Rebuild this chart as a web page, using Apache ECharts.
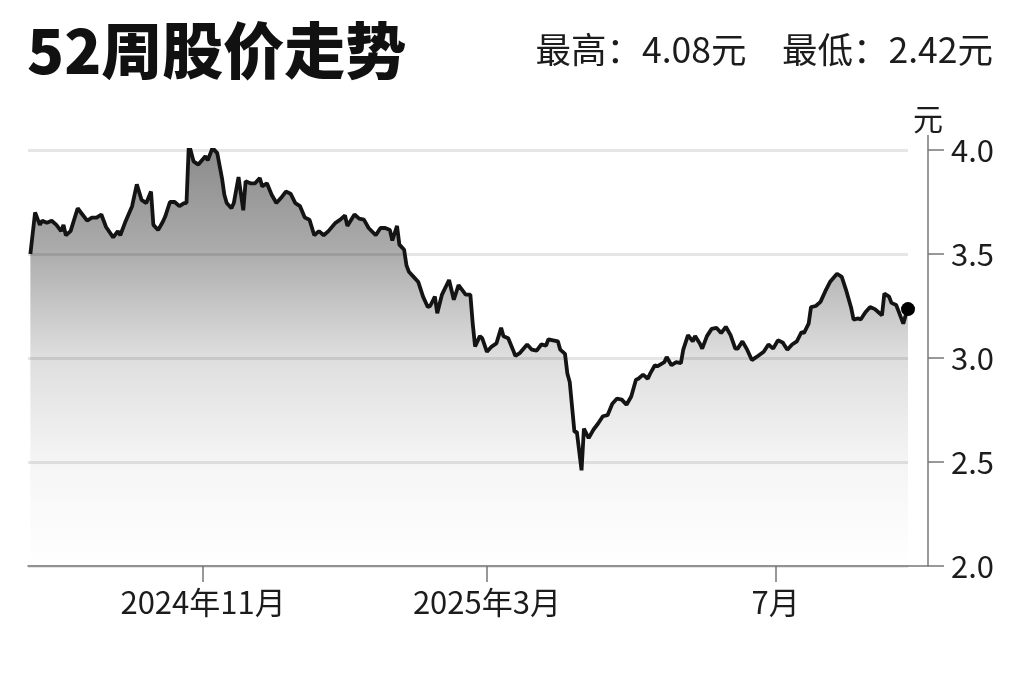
<!DOCTYPE html>
<html>
<head>
<meta charset="utf-8">
<script src="https://cdn.jsdelivr.net/npm/echarts@6/dist/echarts.min.js"></script>
<style>
  html, body { margin: 0; padding: 0; background: #fff; }
  #stockChart { width: 1024px; height: 682px; }
</style>
</head>
<body>
<div id="stockChart"></div>
<script>
// 日期与收盘价
var dates = [
  '2024-08-20','2024-08-22','2024-08-24','2024-08-25','2024-08-27','2024-08-29','2024-08-31',
  '2024-09-02','2024-09-03','2024-09-04','2024-09-06','2024-09-09','2024-09-11','2024-09-13','2024-09-15','2024-09-17','2024-09-19','2024-09-21','2024-09-24','2024-09-26','2024-09-27','2024-09-29',
  '2024-10-02','2024-10-04','2024-10-06','2024-10-08','2024-10-10','2024-10-11','2024-10-13','2024-10-15','2024-10-16','2024-10-18','2024-10-20','2024-10-22','2024-10-24','2024-10-25','2024-10-26','2024-10-28','2024-10-30',
  '2024-11-02','2024-11-03','2024-11-05','2024-11-07','2024-11-09','2024-11-10','2024-11-11','2024-11-13','2024-11-14','2024-11-16','2024-11-18','2024-11-19','2024-11-21','2024-11-23','2024-11-25','2024-11-26','2024-11-28','2024-11-30',
  '2024-12-02','2024-12-04','2024-12-06','2024-12-08','2024-12-10','2024-12-12','2024-12-14','2024-12-16','2024-12-18','2024-12-20','2024-12-22','2024-12-24','2024-12-27','2024-12-29','2024-12-31',
  '2025-01-01','2025-01-04','2025-01-06','2025-01-08','2025-01-10','2025-01-13','2025-01-15','2025-01-17','2025-01-19','2025-01-20','2025-01-22','2025-01-23','2025-01-25','2025-01-26','2025-01-27','2025-01-29','2025-01-31',
  '2025-02-02','2025-02-04','2025-02-05','2025-02-07','2025-02-08','2025-02-10','2025-02-13','2025-02-15','2025-02-17','2025-02-19','2025-02-20','2025-02-22','2025-02-23','2025-02-24','2025-02-26','2025-02-27',
  '2025-03-01','2025-03-03','2025-03-05','2025-03-07','2025-03-08','2025-03-10','2025-03-12','2025-03-13','2025-03-15','2025-03-18','2025-03-20','2025-03-22','2025-03-24','2025-03-26','2025-03-27','2025-03-29','2025-03-31',
  '2025-04-01','2025-04-03','2025-04-04','2025-04-05','2025-04-07','2025-04-08','2025-04-10','2025-04-11','2025-04-13','2025-04-15','2025-04-17','2025-04-19','2025-04-21','2025-04-23','2025-04-25','2025-04-27','2025-04-29',
  '2025-05-01','2025-05-03','2025-05-04','2025-05-06','2025-05-08','2025-05-09','2025-05-11','2025-05-12','2025-05-15','2025-05-16','2025-05-18','2025-05-20','2025-05-22','2025-05-23','2025-05-25','2025-05-27','2025-05-28','2025-05-30','2025-05-31',
  '2025-06-02','2025-06-04','2025-06-06','2025-06-08','2025-06-10','2025-06-12','2025-06-14','2025-06-15','2025-06-17','2025-06-19','2025-06-21','2025-06-23','2025-06-26','2025-06-28','2025-06-30',
  '2025-07-02','2025-07-04','2025-07-06','2025-07-08','2025-07-10','2025-07-12','2025-07-13','2025-07-15','2025-07-16','2025-07-18','2025-07-20','2025-07-22','2025-07-24','2025-07-27','2025-07-29','2025-07-31',
  '2025-08-02','2025-08-03','2025-08-05','2025-08-06','2025-08-08','2025-08-10','2025-08-12','2025-08-14','2025-08-15','2025-08-16','2025-08-18','2025-08-19','2025-08-21','2025-08-22','2025-08-24','2025-08-25','2025-08-26'
];
var prices = [
  3.50,3.70,3.64,3.66,3.65,3.66,3.64,
  3.61,3.64,3.59,3.61,3.72,3.69,3.66,3.675,3.675,3.69,3.63,3.58,3.61,3.59,3.65,
  3.73,3.835,3.76,3.745,3.80,3.64,3.615,3.655,3.68,3.75,3.75,3.73,3.745,3.745,4.03,3.945,3.93,
  3.97,3.95,4.01,3.985,3.865,3.785,3.745,3.72,3.745,3.87,3.71,3.85,3.84,3.84,3.865,3.825,3.84,3.785,
  3.745,3.77,3.80,3.79,3.745,3.73,3.675,3.665,3.59,3.61,3.59,3.61,3.65,3.665,3.685,
  3.635,3.69,3.67,3.665,3.625,3.59,3.625,3.625,3.615,3.565,3.635,3.545,3.52,3.445,3.415,3.39,3.365,
  3.295,3.245,3.25,3.295,3.215,3.305,3.375,3.28,3.35,3.32,3.305,3.305,3.165,3.055,3.105,3.095,
  3.03,3.055,3.07,3.145,3.105,3.095,3.04,3.01,3.025,3.065,3.04,3.035,3.065,3.06,3.09,3.085,3.08,
  3.04,3.02,2.925,2.885,2.645,2.645,2.46,2.66,2.615,2.655,2.685,2.72,2.725,2.78,2.805,2.80,2.775,
  2.815,2.895,2.90,2.92,2.90,2.925,2.965,2.96,2.98,3.005,2.965,2.98,2.975,3.04,3.11,3.08,3.105,3.07,3.045,
  3.105,3.14,3.145,3.12,3.15,3.11,3.045,3.045,3.08,3.04,2.99,3.005,3.03,3.065,3.045,
  3.085,3.075,3.04,3.065,3.08,3.125,3.12,3.165,3.245,3.25,3.27,3.32,3.365,3.405,3.39,3.32,
  3.24,3.185,3.19,3.185,3.22,3.245,3.235,3.215,3.205,3.31,3.295,3.265,3.255,3.225,3.165,3.205,3.235
];
// 横轴刻度
var tickDates = ['2024-11-01', '2025-03-01', '2025-07-01'];
var tickLabels = ['2024年11月', '2025年3月', '7月'];
var axisStart = '2024-08-19';

var chartDom = document.getElementById('stockChart');
var myChart = echarts.init(chartDom);

var gridLeft = 28, gridRight = 116, gridTop = 150, gridBottom = 116;
var axisColor = '#777';
var font = '"Noto Sans CJK SC", "Noto Sans", sans-serif';

var toTime = function (d) { return echarts.time.parse(d).getTime(); };
var tickValues = tickDates.map(toTime);
var lineData = dates.map(function (d, i) { return [toTime(d), prices[i]]; });
var lastIdx = dates.length - 1;

var option = {
    backgroundColor: '#fff',
    animation: false,
    title: [
        {
            text: '52周股价走势',
            left: 22,
            top: 15,
            textStyle: { fontFamily: font, fontSize: 61, fontWeight: 900, color: '#111' }
        },
        {
            text: '最高：4.08元　最低：2.42元',
            right: 26,
            top: 27,
            textStyle: { fontFamily: font, fontSize: 35.5, fontWeight: 'normal', color: '#1c1c1c' }
        }
    ],
    grid: { left: gridLeft, right: gridRight, top: gridTop, bottom: gridBottom },
    xAxis: {
        type: 'value',
        min: toTime(axisStart),
        max: toTime(dates[lastIdx]),
        axisLine: { lineStyle: { color: axisColor, width: 1.5 } },
        axisTick: { show: true, length: 16, customValues: tickValues, lineStyle: { color: axisColor, width: 1.5 } },
        axisLabel: {
            customValues: tickValues,
            margin: 21,
            fontFamily: font,
            fontSize: 31,
            color: '#1c1c1c',
            formatter: function (val) {
                var i = tickValues.indexOf(val);
                return i >= 0 ? tickLabels[i] : '';
            }
        },
        splitLine: { show: false }
    },
    yAxis: {
        type: 'value',
        position: 'right',
        offset: 20,
        min: 2,
        max: 4,
        interval: 0.5,
        name: '元',
        nameLocation: 'end',
        nameGap: 16,
        nameTextStyle: { fontFamily: font, fontSize: 30, color: '#1c1c1c', align: 'center' },
        axisLine: { show: true, lineStyle: { color: axisColor, width: 1.5 } },
        axisTick: { show: true, length: 16, lineStyle: { color: axisColor, width: 1.5 } },
        axisLabel: {
            margin: 23,
            fontFamily: font,
            fontSize: 31,
            color: '#1c1c1c',
            formatter: function (v) { return v.toFixed(1); }
        },
        splitLine: {
            show: true,
            lineStyle: { color: '#e6e6e6', width: 3 }
        }
    },
    graphic: [
        {   // 横轴延伸到纵轴
            type: 'line',
            shape: { x1: 1024 - gridRight, y1: 682 - gridBottom, x2: 1024 - gridRight + 20, y2: 682 - gridBottom },
            style: { stroke: axisColor, lineWidth: 1.5 }
        },
        {   // 纵轴顶端
            type: 'line',
            shape: { x1: 1024 - gridRight + 20, y1: gridTop - 15, x2: 1024 - gridRight + 20, y2: gridTop },
            style: { stroke: axisColor, lineWidth: 1.5 }
        }
    ],
    series: [
        {
            type: 'line',
            data: lineData,
            showSymbol: false,
            symbol: 'none',
            lineStyle: { color: '#141414', width: 3.8 },
            areaStyle: {
                color: new echarts.graphic.LinearGradient(0, 0, 0, 1, [
                    { offset: 0, color: 'rgba(0,0,0,0.66)' },
                    { offset: 0.25, color: 'rgba(0,0,0,0.47)' },
                    { offset: 0.5, color: 'rgba(0,0,0,0.19)' },
                    { offset: 0.75, color: 'rgba(0,0,0,0.06)' },
                    { offset: 1, color: 'rgba(0,0,0,0)' }
                ])
            },
            z: 3
        },
        {
            type: 'scatter',
            data: [[toTime(dates[lastIdx]), prices[lastIdx]]],
            symbolSize: 14,
            itemStyle: { color: '#000', opacity: 1 },
            z: 4
        }
    ]
};

myChart.setOption(option);
</script>
</body>
</html>
